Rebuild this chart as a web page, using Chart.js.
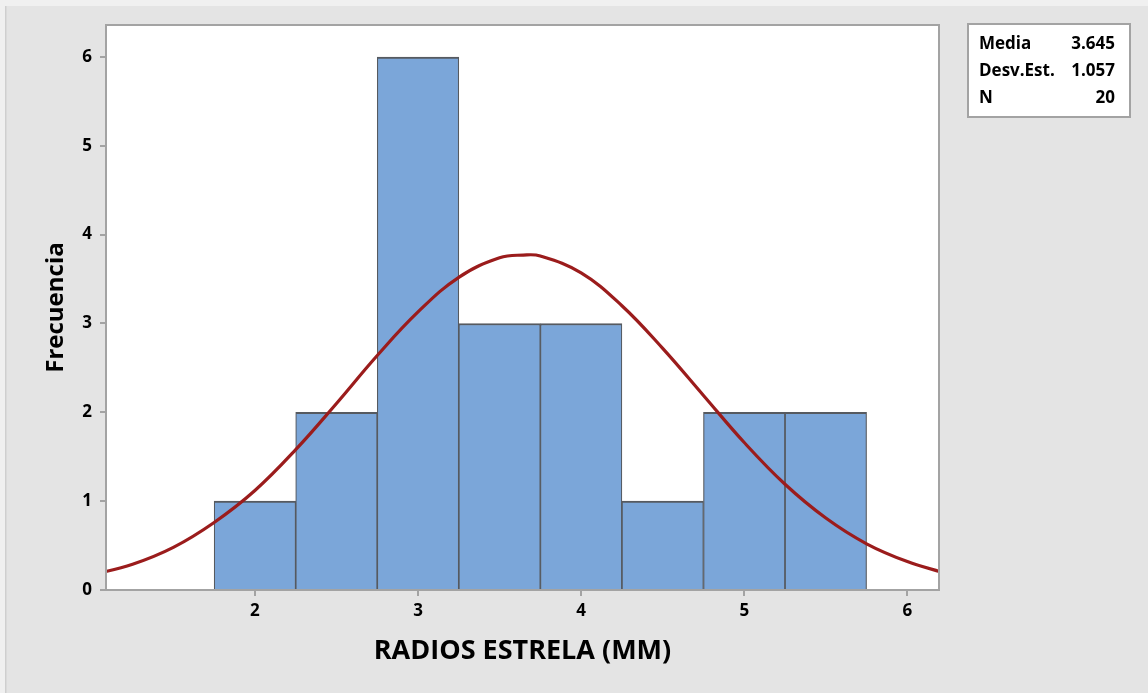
<!DOCTYPE html>
<html>
<head>
<meta charset="utf-8">
<script src="https://cdn.jsdelivr.net/npm/chart.js@4.4.0/dist/chart.umd.min.js"></script>
<style>
  html, body { margin: 0; padding: 0; background: #e4e4e4; }
  #wrap { width: 1148px; height: 693px; position: relative; }
</style>
</head>
<body>
<div id="wrap"><canvas id="histChart" width="1148" height="693"></canvas></div>
<script>
// histogram bins (width 0.5) and counts
const binCenters = [2, 2.5, 3, 3.5, 4, 4.5, 5, 5.5];
const frequencies = [1, 2, 6, 3, 3, 1, 2, 2];

// fitted normal curve
const curveX = [1.0, 1.25, 1.5, 1.75, 2.0, 2.25, 2.5, 2.75, 3.0, 3.25, 3.5, 3.645, 3.75, 4.0, 4.25, 4.5, 4.75, 5.0, 5.25, 5.5, 5.75, 6.0, 6.25];
const curveY = [0.17, 0.29, 0.48, 0.76, 1.12, 1.58, 2.10, 2.64, 3.13, 3.52, 3.74, 3.77, 3.76, 3.57, 3.20, 2.72, 2.19, 1.66, 1.19, 0.81, 0.52, 0.32, 0.18];

const xTicks = [2, 3, 4, 5, 6];
const yTicks = [0, 1, 2, 3, 4, 5, 6];

const statLabels = ['Media', 'Desv.Est.', 'N'];
const statValues = ['3.645', '1.057', '20'];

const FONT = "'Open Sans', 'Noto Sans', sans-serif";
const FRAME = '#a3a3a3';

// page background, plot frame and stats box
const framePlugin = {
    id: 'frame',
    beforeDraw(chart) {
        const { ctx, chartArea: a } = chart;
        ctx.save();
        ctx.fillStyle = '#f0f0f0';
        ctx.fillRect(0, 0, chart.width, chart.height);
        ctx.fillStyle = '#e4e4e4';
        ctx.fillRect(6, 6, chart.width - 6, chart.height - 6);
        ctx.fillStyle = '#cfcfcf';
        ctx.fillRect(5, 6, 1.5, chart.height - 6);
        ctx.fillStyle = '#ffffff';
        ctx.fillRect(a.left, a.top, a.right - a.left, a.bottom - a.top);
        ctx.restore();
    },
    afterDraw(chart) {
        const { ctx, chartArea: a } = chart;
        ctx.save();
        ctx.strokeStyle = FRAME;
        ctx.lineWidth = 2;
        ctx.strokeRect(a.left, a.top, a.right - a.left, a.bottom - a.top);

        // stats box
        ctx.fillStyle = '#ffffff';
        ctx.fillRect(968, 24, 162, 93);
        ctx.strokeRect(968, 24, 162, 93);
        ctx.fillStyle = '#000';
        ctx.font = 'bold 17px ' + FONT;
        ctx.textBaseline = 'alphabetic';
        const rows = [49, 76, 103];
        statLabels.forEach((lab, i) => {
            ctx.textAlign = 'left';
            ctx.fillText(lab, 979, rows[i]);
            ctx.textAlign = 'right';
            ctx.fillText(statValues[i], 1115, rows[i]);
        });
        ctx.restore();
    }
};

const ctx = document.getElementById('histChart').getContext('2d');
new Chart(ctx, {
    data: {
        datasets: [
            {
                type: 'line',
                data: curveX.map((x, i) => ({ x: x, y: curveY[i] })),
                borderColor: '#9b1c1c',
                borderWidth: 3.2,
                pointRadius: 0,
                tension: 0.4,
                fill: false,
                order: 0
            },
            {
                type: 'bar',
                data: binCenters.map((x, i) => ({ x: x, y: frequencies[i] })),
                backgroundColor: '#7ba6d9',
                borderColor: '#565a60',
                borderWidth: { top: 2, left: 1.2, right: 1.2, bottom: 0 },
                borderSkipped: false,
                barPercentage: 1,
                categoryPercentage: 1,
                grouped: false,
                order: 1
            }
        ]
    },
    options: {
        responsive: false,
        animation: false,
        layout: { padding: { top: 25, right: 209, bottom: 0, left: 0 } },
        plugins: {
            legend: { display: false },
            tooltip: { enabled: false }
        },
        scales: {
            x: {
                type: 'linear',
                offset: false,
                min: 1.087,
                max: 6.194,
                afterBuildTicks: (s) => { s.ticks = xTicks.map(v => ({ value: v })); },
                afterFit: (s) => { s.height = 103; },
                grid: { offset: false, drawOnChartArea: false, drawTicks: true, tickLength: 6, color: FRAME, lineWidth: 2 },
                border: { display: false },
                ticks: { color: '#000', padding: 5, font: { family: FONT, size: 17, weight: 'bold' } },
                title: {
                    display: true,
                    text: 'RADIOS ESTRELA (MM)',
                    color: '#000',
                    font: { family: FONT, size: 27, weight: 'bold' },
                    padding: { top: 0, bottom: 25 }
                }
            },
            y: {
                type: 'linear',
                min: 0,
                max: 6.36,
                afterBuildTicks: (s) => { s.ticks = yTicks.map(v => ({ value: v })); },
                afterFit: (s) => { s.width = 106; },
                grid: { drawOnChartArea: false, drawTicks: true, tickLength: 6, color: FRAME, lineWidth: 2 },
                border: { display: false },
                ticks: { color: '#000', padding: 8, font: { family: FONT, size: 17, weight: 'bold' } },
                title: {
                    display: true,
                    text: 'Frecuencia',
                    color: '#000',
                    font: { family: FONT, size: 24, weight: 'bold' },
                    padding: { top: 42, bottom: 0 }
                }
            }
        }
    },
    plugins: [framePlugin]
});
</script>
</body>
</html>
